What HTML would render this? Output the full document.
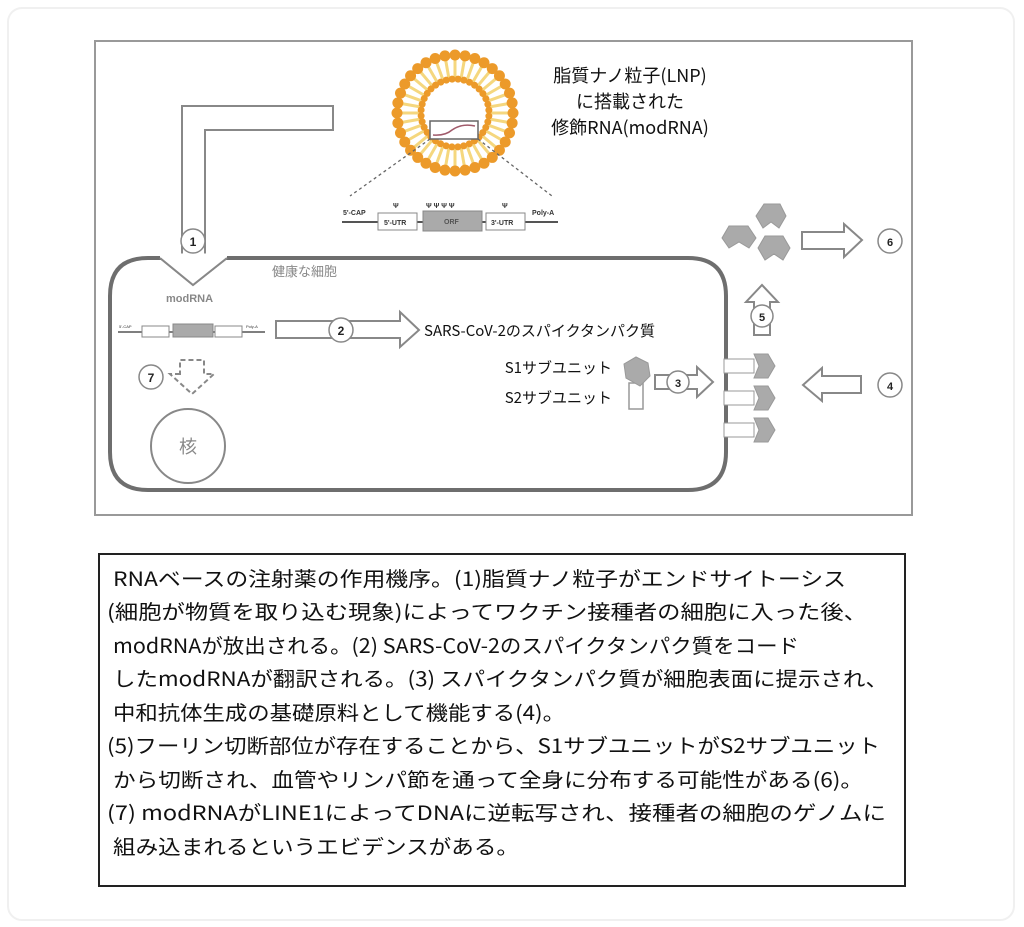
<!DOCTYPE html>
<html><head><meta charset="utf-8"><style>
html,body{margin:0;padding:0;background:#fff;}
svg{display:block}
text{font-family:"Liberation Sans","Noto Sans CJK JP",sans-serif;}
text.jp,.jp text{font-family:"Noto Sans CJK JP","Liberation Sans",sans-serif;}
</style></head><body>
<svg id="s" width="1024" height="927" viewBox="0 0 1024 927" xmlns="http://www.w3.org/2000/svg">
<rect x="8" y="8" width="1006" height="912" rx="14" fill="#fff" stroke="#f0f0f0" stroke-width="2"/>
<rect x="95" y="41" width="817" height="474" fill="#fff" stroke="#999" stroke-width="2"/>
<!-- LNP -->
<g id="lnp"></g>
<rect x="430" y="121" width="48" height="18" fill="#fff" stroke="#666" stroke-width="1.5"/>
<path d="M433 135 Q445 136 452 130 Q462 123 475 126" fill="none" stroke="#a05a6a" stroke-width="1.5"/>
<line x1="430" y1="139" x2="350" y2="196" stroke="#666" stroke-width="1.3" stroke-dasharray="3,3"/>
<line x1="478" y1="139" x2="552" y2="196" stroke="#666" stroke-width="1.3" stroke-dasharray="3,3"/>
<text class="jp" x="630" y="82" font-size="18" text-anchor="middle" fill="#111">脂質ナノ粒子(LNP)</text>
<text class="jp" x="630" y="108" font-size="18" text-anchor="middle" fill="#111">に搭載された</text>
<text class="jp" x="630" y="134" font-size="18" text-anchor="middle" fill="#111">修飾RNA(modRNA)</text>
<!-- big mRNA -->
<g font-size="7" font-weight="bold" fill="#333">
<line x1="342" y1="222" x2="558" y2="222" stroke="#555" stroke-width="2"/>
<text x="343" y="215">5'-CAP</text>
<rect x="378" y="213" width="39" height="17" fill="#fff" stroke="#888"/><text x="384" y="225">5'-UTR</text>
<rect x="423" y="211" width="59" height="20" fill="#aaa" stroke="#888"/><text x="444" y="224" fill="#555">ORF</text>
<rect x="486" y="213" width="39" height="17" fill="#fff" stroke="#888"/><text x="491" y="225">3'-UTR</text>
<text x="532" y="215">Poly-A</text>
<text x="393" y="208">Ψ</text><text x="426" y="208">Ψ Ψ Ψ Ψ</text><text x="502" y="208">Ψ</text>
</g>
<!-- arrow 1 elbow -->
<path d="M333 106 L182 106 L182 258 L160 258 L193 285 L227 258 L205 258 L205 130 L333 130 Z" fill="#fff" stroke="#888" stroke-width="2"/>
<!-- cell -->
<path d="M148 258 L688 258 Q726 258 726 296 L726 452 Q726 490 688 490 L148 490 Q110 490 110 452 L110 296 Q110 258 148 258 Z" fill="none" stroke="#6e6e6e" stroke-width="4"/>
<path d="M160 256 L227 256" stroke="#fff" stroke-width="5"/>
<path d="M160 258 L193 285 L227 258" fill="#fff" stroke="#888" stroke-width="2"/>
<circle cx="193" cy="241" r="12" fill="#fff" stroke="#888" stroke-width="1.5"/>
<text x="193" y="246" font-size="12" font-weight="bold" text-anchor="middle" fill="#222">1</text>
<text class="jp" x="272" y="276" font-size="13" fill="#888">健康な細胞</text>
<text x="166" y="302" font-size="11" font-weight="bold" fill="#888">modRNA</text>
<!-- small mRNA -->
<g font-size="4" fill="#333">
<line x1="118" y1="332" x2="265" y2="332" stroke="#555" stroke-width="1.5"/>
<text x="119" y="328">5'-CAP</text>
<rect x="142" y="326" width="27" height="11" fill="#fff" stroke="#888"/>
<rect x="173" y="324" width="40" height="13" fill="#aaa" stroke="#888"/>
<rect x="215" y="326" width="27" height="11" fill="#fff" stroke="#888"/>
<text x="246" y="328">Poly-A</text>
</g>
<!-- arrow 2 -->
<path d="M276 321 L400 321 L400 312 L419 330 L400 347 L400 338 L276 338 Z" fill="#fff" stroke="#888" stroke-width="2"/>
<circle cx="341" cy="330" r="12" fill="#fff" stroke="#888" stroke-width="1.5"/>
<text x="341" y="335" font-size="12" font-weight="bold" text-anchor="middle" fill="#222">2</text>
<text class="jp" x="424" y="336" font-size="15" fill="#111">SARS-CoV-2のスパイクタンパク質</text>
<text class="jp" x="612" y="373" font-size="15" text-anchor="end" fill="#111">S1サブユニット</text>
<text class="jp" x="612" y="403" font-size="15" text-anchor="end" fill="#111">S2サブユニット</text>
<!-- 7 dashed arrow -->
<path d="M180 374 L170 374 L192 394 L214 374 L204 374 L204 360 L180 360 Z" fill="none" stroke="#888" stroke-width="2" stroke-dasharray="5,3"/>
<circle cx="151" cy="377" r="12" fill="#fff" stroke="#888" stroke-width="1.5"/>
<text x="151" y="382" font-size="12" font-weight="bold" text-anchor="middle" fill="#222">7</text>
<circle cx="188" cy="446" r="37" fill="#fff" stroke="#888" stroke-width="2"/>
<text class="jp" x="188" y="453" font-size="18" text-anchor="middle" fill="#888">核</text>
<!-- S protein -->
<rect x="629" y="383" width="14" height="26" fill="#fff" stroke="#999" stroke-width="1.5"/>
<polygon points="636,357 648,363 650,376 640,386 626,378 624,364" fill="#aaa" stroke="#999"/>
<!-- arrow 3 -->
<path d="M655 375 L697 375 L697 367 L713 382 L697 397 L697 389 L655 389 Z" fill="#fff" stroke="#888" stroke-width="2"/>
<circle cx="678" cy="382" r="11" fill="#fff" stroke="#888" stroke-width="1.5"/>
<text x="678" y="387" font-size="11" font-weight="bold" text-anchor="middle" fill="#222">3</text>
<!-- surface spikes -->
<g id="sp"></g>
<!-- 5 up arrow -->
<path d="M754 335 L754 302 L746 302 L762 285 L778 302 L770 302 L770 335 Z" fill="#fff" stroke="#888" stroke-width="2"/>
<circle cx="762" cy="316" r="11" fill="#fff" stroke="#888" stroke-width="1.5"/>
<text x="762" y="321" font-size="11" font-weight="bold" text-anchor="middle" fill="#222">5</text>
<!-- free S1 -->
<g fill="#aaa" stroke="#999">
<polygon points="729,226 748,226 756,238 749,248 739,242 729,248 722,238"/>
<polygon points="764,204 780,204 786,216 779,228 771,222 763,228 756,216"/>
<polygon points="765,236 783,236 790,248 783,260 774,254 765,260 758,248"/>
</g>
<!-- arrow 6 -->
<path d="M802 232 L844 232 L844 224 L862 240 L844 257 L844 249 L802 249 Z" fill="#fff" stroke="#888" stroke-width="2"/>
<circle cx="890" cy="241" r="12" fill="#fff" stroke="#888" stroke-width="1.5"/>
<text x="890" y="246" font-size="11" font-weight="bold" text-anchor="middle" fill="#222">6</text>
<!-- arrow 4 -->
<path d="M861 376 L822 376 L822 368 L803 385 L822 401 L822 393 L861 393 Z" fill="#fff" stroke="#888" stroke-width="2"/>
<circle cx="890" cy="385" r="12" fill="#fff" stroke="#888" stroke-width="1.5"/>
<text x="890" y="390" font-size="11" font-weight="bold" text-anchor="middle" fill="#222">4</text>
<!-- caption -->
<rect x="99" y="554" width="806" height="332" fill="#fff" stroke="#222" stroke-width="2"/>
<g class="jp" font-size="20" fill="#111">
<text x="113" y="586" textLength="733" lengthAdjust="spacingAndGlyphs">RNAベースの注射薬の作用機序。(1)脂質ナノ粒子がエンドサイトーシス</text>
<text x="107" y="619" textLength="760" lengthAdjust="spacingAndGlyphs">(細胞が物質を取り込む現象)によってワクチン接種者の細胞に入った後、</text>
<text x="113" y="653" textLength="686" lengthAdjust="spacingAndGlyphs">modRNAが放出される。(2) SARS-CoV-2のスパイクタンパク質をコード</text>
<text x="113" y="686" textLength="775" lengthAdjust="spacingAndGlyphs">したmodRNAが翻訳される。(3) スパイクタンパク質が細胞表面に提示され、</text>
<text x="113" y="720" textLength="452" lengthAdjust="spacingAndGlyphs">中和抗体生成の基礎原料として機能する(4)。</text>
<text x="107" y="753" textLength="773" lengthAdjust="spacingAndGlyphs">(5)フーリン切断部位が存在することから、S1サブユニットがS2サブユニット</text>
<text x="113" y="787" textLength="750" lengthAdjust="spacingAndGlyphs">から切断され、血管やリンパ節を通って全身に分布する可能性がある(6)。</text>
<text x="107" y="820" textLength="779" lengthAdjust="spacingAndGlyphs">(7) modRNAがLINE1によってDNAに逆転写され、接種者の細胞のゲノムに</text>
<text x="113" y="854" textLength="406" lengthAdjust="spacingAndGlyphs">組み込まれるというエビデンスがある。</text>
</g>
</svg>
<script>
var ns="http://www.w3.org/2000/svg",g=document.getElementById("lnp"),cx=455,cy=113;
for(var i=0;i<36;i++){var a=i*2*Math.PI/36;
var l=document.createElementNS(ns,"line");
l.setAttribute("x1",cx+36*Math.cos(a));l.setAttribute("y1",cy+36*Math.sin(a));
l.setAttribute("x2",cx+54*Math.cos(a));l.setAttribute("y2",cy+54*Math.sin(a));
l.setAttribute("stroke","#f5d77e");l.setAttribute("stroke-width","3");g.appendChild(l);}
for(var i=0;i<36;i++){var a=i*2*Math.PI/36;
var c=document.createElementNS(ns,"circle");c.setAttribute("cx",cx+58*Math.cos(a));c.setAttribute("cy",cy+58*Math.sin(a));c.setAttribute("r",5.5);c.setAttribute("fill","#ec9a2a");g.appendChild(c);
var c2=document.createElementNS(ns,"circle");c2.setAttribute("cx",cx+34*Math.cos(a+0.09));c2.setAttribute("cy",cy+34*Math.sin(a+0.09));c2.setAttribute("r",3.5);c2.setAttribute("fill","#ec9a2a");g.appendChild(c2);}
var sp=document.getElementById("sp");
[366,398,430].forEach(function(y){
sp.innerHTML+='<rect x="724" y="'+(y-7)+'" width="30" height="14" fill="#fff" stroke="#999"/>'+
'<polygon points="754,'+(y-12)+' 768,'+(y-12)+' 775,'+y+' 768,'+(y+12)+' 754,'+(y+12)+' 759,'+y+'" fill="#aaa" stroke="#999"/>';});
</script>
</body></html>
